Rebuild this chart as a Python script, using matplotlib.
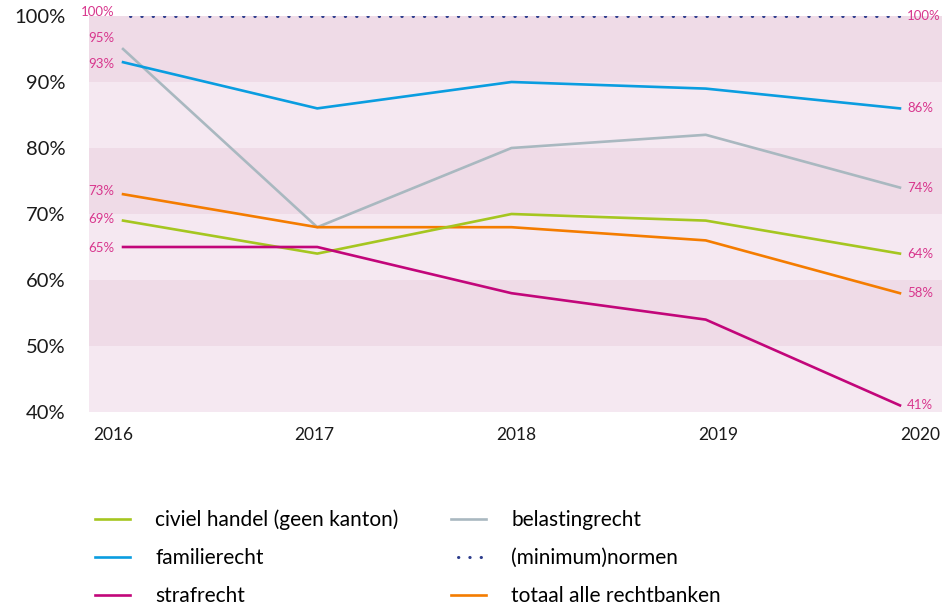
import numpy as np
import matplotlib
matplotlib.use('Agg')
import matplotlib.pyplot as plt

plt.rcParams['font.family'] = ['Lato', 'DejaVu Sans']

# Data
years = [2016, 2017, 2018, 2019, 2020]
civiel = [69, 64, 70, 69, 64]
familie = [93, 86, 90, 89, 86]
straf = [65, 65, 58, 54, 41]
belasting = [95, 68, 80, 82, 74]
normen = [100, 100, 100, 100, 100]
totaal = [73, 68, 68, 66, 58]
y_ticks = [40, 50, 60, 70, 80, 90, 100]

label_col = '#d8368d'

fig = plt.figure(figsize=(9.42, 6.11), dpi=100)
ax = fig.add_axes([89 / 942, (611 - 412) / 611, 1 - 89 / 942, (412 - 16) / 611])

# alternating bands
for lo in range(40, 100, 10):
    c = '#efdbe7' if (lo // 10) % 2 == 1 else '#f5e8f1'
    ax.axhspan(lo, lo + 10, color=c, lw=0, zorder=0)

ax.plot(years, normen, color='#2c3c8c', lw=2.2, linestyle=(1.4, (0.1, 3.6)),
        dash_capstyle='round', label='(minimum)normen', zorder=3)
ax.plot(years, belasting, color='#a9b8c0', lw=1.9, label='belastingrecht', zorder=2)
ax.plot(years, familie, color='#0a9de0', lw=1.9, label='familierecht', zorder=2)
ax.plot(years, totaal, color='#f47c00', lw=1.9, label='totaal alle rechtbanken', zorder=2)
ax.plot(years, civiel, color='#a5c620', lw=1.9, label='civiel handel (geen kanton)', zorder=2)
ax.plot(years, straf, color='#c2067a', lw=1.9, label='strafrecht', zorder=2)

# value labels at both ends (small vertical nudges where labels crowd)
left_dy = {100: 3, 95: 8, 93: -1, 73: 2, 69: 1, 65: -1}
for s in [normen, belasting, familie, totaal, civiel, straf]:
    ax.annotate(f'{s[0]}%', (years[0], s[0]), xytext=(-6, left_dy.get(s[0], 0)),
                textcoords='offset points', ha='right', va='center',
                color=label_col, fontsize=9.5)
    ax.annotate(f'{s[-1]}%', (years[-1], s[-1]), xytext=(5, 0), textcoords='offset points',
                ha='left', va='center', color=label_col, fontsize=9.5)

ax.set_xlim(2016 - 34 / 194, 2020 + 42 / 194)
ax.set_ylim(40, 100)
ax.set_yticks(y_ticks)
ax.set_yticklabels([f'{v}%' for v in y_ticks], fontsize=14.5, color='#1a1a1a')
ax.set_xticks(np.linspace(2016 - 10 / 194, 2020 + 20 / 194, len(years)))
ax.set_xticklabels([str(y) for y in years], fontsize=12.5, color='#1a1a1a')
ax.tick_params(axis='both', length=0)
ax.tick_params(axis='y', pad=17)
ax.tick_params(axis='x', pad=11)
for sp in ax.spines.values():
    sp.set_visible(False)

h, l = ax.get_legend_handles_labels()
order = ['civiel handel (geen kanton)', 'familierecht', 'strafrecht',
         'belastingrecht', '(minimum)normen', 'totaal alle rechtbanken']
hh = [h[l.index(o)] for o in order]
fig.legend(hh, order, ncol=2, loc='upper left', bbox_to_anchor=(76 / 942, 1 - 491 / 611),
           frameon=False, fontsize=15, handlelength=1.7, handletextpad=1.2,
           labelspacing=0.86, columnspacing=2.5)

fig.savefig('out.png', dpi=100)
